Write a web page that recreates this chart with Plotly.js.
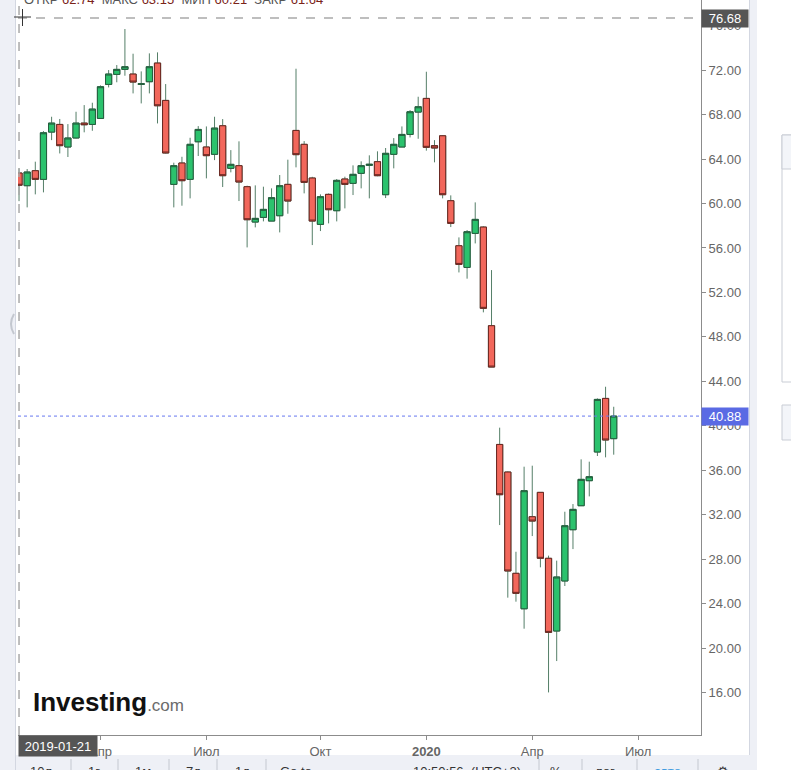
<!DOCTYPE html>
<html>
<head>
<meta charset="utf-8">
<script src="https://cdn.plot.ly/plotly-3.0.1.min.js"></script>
<style>
  html, body { margin: 0; padding: 0; background: #fff; }
  #chart { width: 791px; height: 770px; }
</style>
</head>
<body>
<div id="chart"></div>
<script>
// weekly candles, Mondays
var dates = [
  '2019-01-21','2019-01-28','2019-02-04','2019-02-11','2019-02-18','2019-02-25','2019-03-04','2019-03-11',
  '2019-03-18','2019-03-25','2019-04-01','2019-04-08','2019-04-15','2019-04-22','2019-04-29','2019-05-06',
  '2019-05-13','2019-05-20','2019-05-27','2019-06-03','2019-06-10','2019-06-17','2019-06-24','2019-07-01',
  '2019-07-08','2019-07-15','2019-07-22','2019-07-29','2019-08-05','2019-08-12','2019-08-19','2019-08-26',
  '2019-09-02','2019-09-09','2019-09-16','2019-09-23','2019-09-30','2019-10-07','2019-10-14','2019-10-21',
  '2019-10-28','2019-11-04','2019-11-11','2019-11-18','2019-11-25','2019-12-02','2019-12-09','2019-12-16',
  '2019-12-23','2019-12-30','2020-01-06','2020-01-13','2020-01-20','2020-01-27','2020-02-03','2020-02-10',
  '2020-02-17','2020-02-24','2020-03-02','2020-03-09','2020-03-16','2020-03-23','2020-03-30','2020-04-06',
  '2020-04-13','2020-04-20','2020-04-27','2020-05-04','2020-05-11','2020-05-18','2020-05-25','2020-06-01',
  '2020-06-08','2020-06-15'
];
var openP = [
  62.74,61.60,62.95,62.17,66.42,67.11,65.08,65.89,67.23,67.11,67.65,70.71,71.61,72.06,71.64,70.71,
  70.95,72.63,69.27,61.72,63.64,62.17,65.55,65.08,64.42,66.99,63.16,63.40,61.51,58.33,58.75,58.42,
  58.90,61.72,66.57,65.32,62.29,58.12,60.82,59.35,62.20,61.81,62.71,63.43,63.76,60.79,64.42,65.08,
  66.21,68.22,69.45,65.20,66.09,60.25,56.20,54.25,57.31,57.88,49.01,38.33,35.85,26.74,23.55,31.83,
  34.02,28.09,21.55,26.05,30.66,32.82,35.07,37.65,42.47,38.85
];
var highP = [
  63.15,63.10,63.76,66.51,67.80,67.60,67.14,68.25,68.85,69.06,70.62,72.00,72.45,75.69,73.47,71.88,
  73.50,73.59,70.74,63.67,64.20,65.91,66.96,66.93,67.80,67.59,64.80,65.59,61.60,61.63,61.51,61.36,
  62.56,63.94,72.12,65.61,62.40,60.82,60.90,62.20,62.41,63.43,63.79,64.33,64.69,64.99,65.88,66.93,
  68.40,69.60,71.85,65.70,66.15,60.73,56.95,57.61,60.10,57.95,54.01,39.84,35.90,28.68,36.33,36.42,
  34.05,28.33,27.88,32.28,32.97,36.99,36.78,42.47,43.52,41.72
];
var lowP = [
  60.21,59.65,60.82,61.00,65.70,64.50,64.18,65.85,66.40,66.54,67.62,70.44,70.90,71.49,69.90,69.00,
  69.90,67.20,64.50,59.65,59.80,60.46,64.27,62.26,63.90,61.48,62.80,60.22,56.05,57.85,58.39,58.42,
  57.40,59.08,63.25,60.91,56.26,57.52,58.21,58.39,59.56,60.76,61.36,60.46,62.45,60.49,63.16,65.08,
  65.94,65.82,64.75,63.70,60.46,57.88,53.80,53.24,56.41,50.21,45.29,31.08,24.55,24.19,21.76,30.09,
  27.28,16.03,18.85,25.60,28.92,32.82,33.66,37.29,37.17,37.41
];
var closeP = [
  61.64,62.83,62.17,66.36,67.23,65.20,65.89,67.23,67.08,68.49,70.50,71.64,72.06,72.30,70.92,70.77,
  72.30,68.79,64.54,63.40,62.05,65.32,66.66,64.30,66.78,62.50,63.52,61.93,58.54,58.66,59.47,60.52,
  61.60,60.22,64.39,61.90,58.42,60.61,59.44,62.08,61.72,62.62,63.40,63.52,62.50,64.51,65.32,66.21,
  68.25,68.70,65.05,64.99,60.79,58.21,54.52,57.46,58.57,50.57,45.29,33.81,26.95,24.94,34.17,31.44,
  28.09,21.43,26.41,31.02,32.49,35.19,35.43,42.38,38.73,40.88
];

var tickDates = ['2019-04-01','2019-07-01','2019-10-07','2020-01-06','2020-04-06','2020-07-06'];
var tickNames = ['Апр','Июл','Окт','<b>2020</b>','Апр','Июл'];
var priceTicks = [16,20,24,28,32,36,40,44,48,52,56,60,64,68,72,76];

var lastPrice = 40.88;
var crossPrice = 76.68;

// pixel -> paper helpers (plot area is 18..701 x 0..735)
function X(p) { return (p - 18) / 683; }
function Y(p) { return (735 - p) / 735; }

var bodyHigh = openP.map(function (o, i) { return Math.max(o, closeP[i]); });
var bodyLow = openP.map(function (o, i) { return Math.min(o, closeP[i]); });

var wicks = {
  type: 'candlestick', x: dates, open: openP, high: highP, low: lowP, close: closeP,
  increasing: { line: { color: '#557f68', width: 1 }, fillcolor: '#557f68' },
  decreasing: { line: { color: '#557f68', width: 1 }, fillcolor: '#557f68' },
  whiskerwidth: 0, hoverinfo: 'skip', showlegend: false
};
var bodies = {
  type: 'candlestick', x: dates, open: openP, high: bodyHigh, low: bodyLow, close: closeP,
  increasing: { line: { color: '#245d3d', width: 1 }, fillcolor: '#2bc26d' },
  decreasing: { line: { color: '#6a2620', width: 1 }, fillcolor: '#f2675b' },
  whiskerwidth: 0, hoverinfo: 'skip', showlegend: false
};

var gray = '#eef0f6';
var border = '#d3d7e1';
var shapes = [
  // side strips and toolbar
  { type: 'rect', xref: 'paper', yref: 'paper', x0: X(0), x1: X(15), y0: Y(770), y1: Y(0), fillcolor: gray, line: { width: 0 }, layer: 'below' },
  { type: 'line', xref: 'paper', yref: 'paper', x0: X(15.5), x1: X(15.5), y0: Y(770), y1: Y(0), line: { color: border, width: 1 } },
  { type: 'rect', xref: 'paper', yref: 'paper', x0: X(749), x1: X(757), y0: Y(770), y1: Y(0), fillcolor: gray, line: { width: 0 }, layer: 'below' },
  { type: 'line', xref: 'paper', yref: 'paper', x0: X(749.5), x1: X(749.5), y0: Y(755), y1: Y(0), line: { color: border, width: 1 } },
  { type: 'rect', xref: 'paper', yref: 'paper', x0: X(0), x1: X(757), y0: Y(770), y1: Y(755), fillcolor: gray, line: { width: 0 }, layer: 'below' },
  { type: 'rect', xref: 'paper', yref: 'paper', x0: X(782), x1: X(800), y0: Y(382), y1: Y(135), fillcolor: '#ffffff', line: { color: '#c9cdd5', width: 1 } },
  { type: 'rect', xref: 'paper', yref: 'paper', x0: X(782), x1: X(800), y0: Y(169), y1: Y(135), fillcolor: '#f3f5f9', line: { color: '#c9cdd5', width: 1 } },
  { type: 'rect', xref: 'paper', yref: 'paper', x0: X(782), x1: X(800), y0: Y(440), y1: Y(405), fillcolor: '#f3f5f9', line: { color: '#c9cdd5', width: 1 } },
  { type: 'path', xref: 'paper', yref: 'paper', path: 'M ' + X(14) + ',' + Y(314) + ' Q ' + X(8) + ',' + Y(324) + ' ' + X(14) + ',' + Y(334), line: { color: '#c3c7cf', width: 2 } },
  // crosshair
  { type: 'line', xref: 'x', yref: 'paper', x0: dates[0], x1: dates[0], y0: 0, y1: 1, line: { color: '#a9a9a9', width: 1.5, dash: 'dash' } },
  { type: 'line', xref: 'paper', yref: 'y', x0: 0, x1: 1, y0: crossPrice, y1: crossPrice, line: { color: '#a9a9a9', width: 1.5, dash: 'dash' } },
  { type: 'line', xref: 'paper', yref: 'paper', x0: X(14), x1: X(31), y0: Y(17), y1: Y(17), line: { color: '#333', width: 1 } },
  { type: 'line', xref: 'paper', yref: 'paper', x0: X(22.5), x1: X(22.5), y0: Y(9), y1: Y(26), line: { color: '#333', width: 1 } },
  // last price
  { type: 'line', xref: 'paper', yref: 'y', x0: 0, x1: 1, y0: lastPrice, y1: lastPrice, line: { color: '#6678f0', width: 1, dash: 'dot' } }
];
[71, 118, 169, 217, 266, 539, 582, 637, 698].forEach(function (sx) {
  shapes.push({ type: 'line', xref: 'paper', yref: 'paper', x0: X(sx), x1: X(sx), y0: Y(770), y1: Y(759), line: { color: '#c4c8d0', width: 1 } });
});

var font = 'Liberation Sans, Arial, sans-serif';
var annotations = [
  { xref: 'paper', yref: 'y', x: 1, y: crossPrice, xanchor: 'left', yanchor: 'middle', text: crossPrice.toFixed(2),
    showarrow: false, bgcolor: '#555555', font: { family: font, size: 13, color: '#ffffff' }, width: 44, height: 15, borderpad: 1 },
  { xref: 'paper', yref: 'y', x: 1, y: lastPrice, xanchor: 'left', yanchor: 'middle', text: lastPrice.toFixed(2),
    showarrow: false, bgcolor: '#5a6ae4', font: { family: font, size: 13, color: '#ffffff' }, width: 44, height: 15, borderpad: 1 },
  { xref: 'paper', yref: 'paper', x: X(18), y: Y(735), xanchor: 'left', yanchor: 'top', text: dates[0],
    showarrow: false, bgcolor: '#555555', font: { family: font, size: 13, color: '#ffffff' }, width: 76, height: 18, borderpad: 1 },
  { xref: 'paper', yref: 'paper', x: X(31), y: Y(719), xanchor: 'left', yanchor: 'bottom', showarrow: false,
    text: '<b>Investing</b><span style="font-size:17px;color:#6b6b6b">.com</span>',
    font: { family: font, size: 26, color: '#111111' } },
  { xref: 'paper', yref: 'paper', x: X(22), y: Y(9), xanchor: 'left', yanchor: 'bottom', showarrow: false,
    text: 'ОТКР <span style="color:#7a2318">' + openP[0].toFixed(2) + '</span>  МАКС <span style="color:#7a2318">' + highP[0].toFixed(2) +
          '</span>  МИН <span style="color:#7a2318">' + lowP[0].toFixed(2) + '</span>  ЗАКР <span style="color:#7a2318">' + closeP[0].toFixed(2) + '</span>',
    font: { family: font, size: 13, color: '#555555' } }
];
var toolbar = [
  ['10л', 41], ['1г', 94], ['1м', 143], ['7д', 193], ['1д', 242], ['Go to...', 301],
  ['10:50:56  (UTC+3)', 467], ['%', 556], ['лог', 605], ['авто', 667], ['⚙', 723]
];
toolbar.forEach(function (t) {
  annotations.push({ xref: 'paper', yref: 'paper', x: X(t[1]), y: Y(762), xanchor: 'center', yanchor: 'top', showarrow: false,
    text: t[0], font: { family: font, size: 13, color: t[0] === 'авто' ? '#3e9be0' : '#333333' } });
});

var layout = {
  width: 791, height: 770,
  margin: { l: 18, r: 90, t: 0, b: 35 },
  paper_bgcolor: '#ffffff', plot_bgcolor: '#ffffff',
  showlegend: false, hovermode: false,
  boxgap: 0.24, boxgroupgap: 0,
  font: { family: font, size: 13, color: '#666666' },
  xaxis: {
    type: 'date', range: ['2019-01-20 03:00', '2020-08-29'],
    rangeslider: { visible: false },
    showgrid: false, zeroline: false, showline: true, linecolor: '#8c8c8c', linewidth: 1,
    ticks: 'outside', ticklen: 4, tickcolor: '#8c8c8c',
    tickmode: 'array', tickvals: tickDates, ticktext: tickNames,
    tickfont: { family: font, size: 13, color: '#666666' }
  },
  yaxis: {
    side: 'right', range: [12.2, 78.3],
    showgrid: false, zeroline: false, showline: true, linecolor: '#8c8c8c', linewidth: 1,
    ticks: 'outside', ticklen: 4, tickcolor: '#8c8c8c',
    tickmode: 'array', tickvals: priceTicks, tickformat: '.2f',
    tickfont: { family: font, size: 13, color: '#666666' }
  },
  shapes: shapes,
  annotations: annotations
};

Plotly.newPlot('chart', [wicks, bodies], layout, { displayModeBar: false, staticPlot: true });
</script>
</body>
</html>
